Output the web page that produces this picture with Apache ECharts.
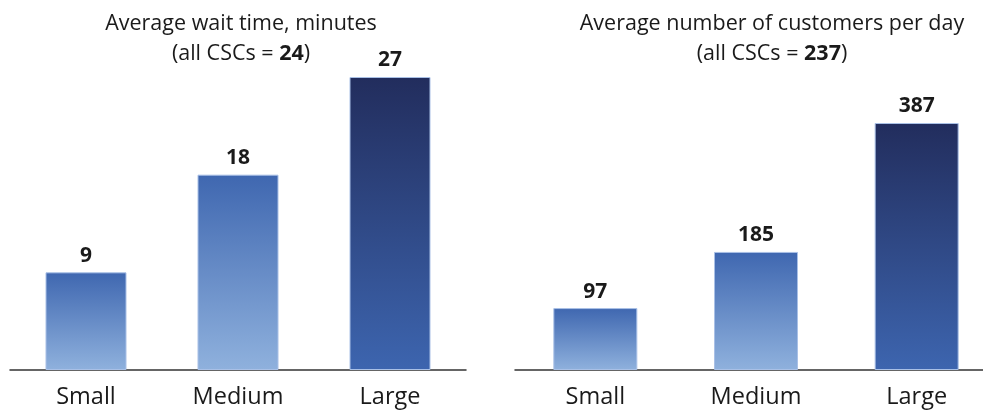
<!DOCTYPE html>
<html>
<head>
<meta charset="utf-8">
<script src="https://cdn.jsdelivr.net/npm/echarts@6/dist/echarts.min.js"></script>
<style>
  html, body { margin: 0; padding: 0; background: #fff; }
  #chart { width: 983px; height: 410px; }
</style>
</head>
<body>
<div id="chart"></div>
<script>
// Centre size groups shown on both panels
const sizeCategories = ['Small', 'Medium', 'Large'];

// Panel 1: average wait time in minutes
const waitTitle = 'Average wait time, minutes';
const waitOverall = 24;
const waitValues = [9, 18, 27];

// Panel 2: average number of customers per day
const customersTitle = 'Average number of customers per day';
const customersOverall = 237;
const customersValues = [97, 185, 387];

const FONT = '"Open Sans", "Noto Sans", sans-serif';

const lightFill = new echarts.graphic.LinearGradient(0, 0, 0, 1, [
  { offset: 0, color: '#3f67b0' },
  { offset: 1, color: '#8fb1dd' }
]);
const darkFill = new echarts.graphic.LinearGradient(0, 0, 0, 1, [
  { offset: 0, color: '#222d5d' },
  { offset: 1, color: '#3d65af' }
]);

function barData(values) {
  return values.map((v, i) => ({
    value: v,
    itemStyle: {
      color: i === values.length - 1 ? darkFill : lightFill,
      borderColor: '#a9c0e6',
      borderWidth: 1
    }
  }));
}

function titleBlock(main, overall, centerX) {
  return {
    text: main + '\n{n|(all CSCs = }{b|' + overall + '}{n|)}',
    left: centerX,
    textAlign: 'center',
    top: 4,
    textStyle: {
      fontFamily: FONT,
      fontSize: 21.5,
      fontWeight: 'normal',
      color: '#1a1a1a',
      lineHeight: 30,
      rich: {
        n: { fontFamily: FONT, fontSize: 21.5, color: '#1a1a1a', lineHeight: 30 },
        b: { fontFamily: FONT, fontSize: 21.5, fontWeight: 'bold', color: '#1a1a1a', lineHeight: 30 }
      }
    }
  };
}

const axisCommon = {
  type: 'category',
  axisTick: { show: false },
  axisLine: { lineStyle: { color: '#333', width: 1.5 } },
  axisLabel: { fontFamily: FONT, fontSize: 23.5, color: '#1a1a1a', margin: 15 }
};

const valueAxisCommon = {
  type: 'value',
  show: false,
  splitLine: { show: false }
};

const labelCommon = {
  show: true,
  position: 'top',
  distance: 6,
  fontFamily: FONT,
  fontSize: 21,
  fontWeight: 'bold',
  color: '#1a1a1a'
};

const chart = echarts.init(document.getElementById('chart'), null, { renderer: 'canvas' });
chart.setOption({
  animation: false,
  backgroundColor: '#ffffff',
  title: [
    titleBlock(waitTitle, waitOverall, 236),
    titleBlock(customersTitle, customersOverall, 767)
  ],
  grid: [
    { left: 10, width: 456, top: 77, height: 293, outerBoundsMode: 'none' },
    { left: 515, width: 482, top: 123, height: 247, outerBoundsMode: 'none' }
  ],
  xAxis: [
    Object.assign({ gridIndex: 0, data: sizeCategories }, axisCommon),
    Object.assign({ gridIndex: 1, data: sizeCategories }, axisCommon)
  ],
  yAxis: [
    Object.assign({ gridIndex: 0, min: 0, max: 27 }, valueAxisCommon),
    Object.assign({ gridIndex: 1, min: 0, max: 387 }, valueAxisCommon)
  ],
  series: [
    {
      type: 'bar',
      xAxisIndex: 0,
      yAxisIndex: 0,
      barWidth: 81,
      data: barData(waitValues),
      label: labelCommon
    },
    {
      type: 'bar',
      xAxisIndex: 1,
      yAxisIndex: 1,
      barWidth: 84,
      data: barData(customersValues),
      label: labelCommon
    }
  ]
});
</script>
</body>
</html>
